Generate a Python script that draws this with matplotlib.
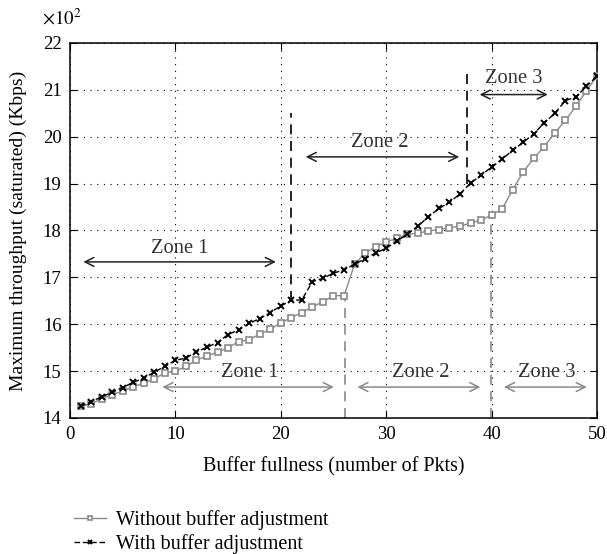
import matplotlib
matplotlib.use("Agg")
import matplotlib.pyplot as plt

# buffer fullness (packets)
buffer_pkts = list(range(1, 51))

# maximum throughput in units of 10^2 Kbps
without_adj = [
    14.25, 14.30, 14.41, 14.50, 14.57, 14.67, 14.74, 14.84, 14.96, 15.00,
    15.10, 15.23, 15.33, 15.40, 15.50, 15.63, 15.67, 15.79, 15.89, 16.03,
    16.14, 16.25, 16.37, 16.48, 16.61, 16.61, 17.28, 17.52, 17.65, 17.76,
    17.83, 17.92, 17.94, 17.99, 18.02, 18.06, 18.09, 18.16, 18.22, 18.33,
    18.46, 18.87, 19.25, 19.54, 19.79, 20.08, 20.35, 20.65, 20.98, 21.29,
]
with_adj = [
    14.25, 14.35, 14.45, 14.55, 14.65, 14.76, 14.85, 14.98, 15.10, 15.23,
    15.28, 15.41, 15.51, 15.61, 15.78, 15.88, 16.02, 16.12, 16.25, 16.39,
    16.51, 16.52, 16.91, 16.98, 17.09, 17.16, 17.28, 17.40, 17.52, 17.62,
    17.77, 17.92, 18.09, 18.29, 18.47, 18.60, 18.78, 19.01, 19.18, 19.35,
    19.52, 19.71, 19.88, 20.06, 20.30, 20.50, 20.77, 20.85, 21.08, 21.29,
]

# zone boundaries: (x, y_bottom, y_top)
black_bounds = [(21.0, 16.5, 20.5), (37.7, 19.0, 21.35)]
gray_bounds = [(26.1, 14.0, 16.6), (39.9, 14.0, 18.2)]

# zone arrows: (label, x_start, x_end, y_arrow, x_text, y_text)
black_zones = [
    ("Zone 1", 1.0, 19.8, 17.33, 10.4, 17.62),
    ("Zone 2", 22.1, 37.2, 19.57, 29.4, 19.87),
    ("Zone 3", 38.6, 45.6, 20.90, 42.1, 21.25),
]
gray_zones = [
    ("Zone 1", 8.5, 25.3, 14.66, 17.1, 14.98),
    ("Zone 2", 27.0, 39.2, 14.66, 33.3, 14.98),
    ("Zone 3", 40.9, 49.3, 14.66, 45.2, 14.98),
]

GRAY = "#8a8a8a"
plt.rcParams["font.family"] = ["Liberation Serif", "DejaVu Serif"]
plt.rcParams["mathtext.fontset"] = "stix"
plt.rcParams["font.size"] = 13

fig = plt.figure(figsize=(6.07, 5.54), dpi=100)
ax = fig.add_axes([0.1153, 0.2455, 0.8682, 0.6769])

line_wo, = ax.plot(buffer_pkts, without_adj, color=GRAY, lw=1.0, marker="s", ms=5,
                   mfc="white", mec=GRAY, mew=1.2, label="Without buffer adjustment", zorder=3)
line_w, = ax.plot(buffer_pkts, with_adj, color="black", lw=1.0, ls=(0, (4, 2)), marker="x", ms=5,
                  mew=1.4, label="With buffer adjustment", zorder=4)

for x, y0, y1 in black_bounds:
    ax.plot([x, x], [y0, y1], color="black", lw=1.2, ls=(0, (6, 4)), zorder=2)
for x, y0, y1 in gray_bounds:
    ax.plot([x, x], [y0, y1], color=GRAY, lw=1.2, ls=(0, (6, 4)), zorder=2)

for label, xs, xe, ya, xt, yt in black_zones:
    ax.annotate("", xy=(xe, ya), xytext=(xs, ya),
                arrowprops=dict(arrowstyle="<->", color="#222222", lw=1.1, mutation_scale=16))
    ax.text(xt, yt, label, ha="center", va="center", color="#333333", fontsize=14.8)
for label, xs, xe, ya, xt, yt in gray_zones:
    ax.annotate("", xy=(xe, ya), xytext=(xs, ya),
                arrowprops=dict(arrowstyle="<->", color=GRAY, lw=1.1, mutation_scale=16))
    ax.text(xt, yt, label, ha="center", va="center", color="#333333", fontsize=14.8)

ax.set_xlim(0, 50)
ax.set_ylim(14, 22)
ax.set_xticks(range(0, 51, 10))
ax.set_yticks(range(14, 23))
ax.grid(True, color="black", ls=(0, (1, 5)), lw=0.8)
ax.tick_params(direction="in", top=True, right=True, length=5, pad=6, labelsize=13.5)
for spine in ax.spines.values():
    spine.set_linewidth(1.1)

ax.set_xlabel("Buffer fullness (number of Pkts)", fontsize=14.5, labelpad=10)
ax.set_ylabel("Maximum throughput (saturated) (Kbps)", fontsize=14)
ax.yaxis.set_label_coords(-0.082, 0.5)
fig.text(0.069, 0.966, r"$\times10^{2}$", fontsize=13.5, ha="left", va="center")

fig.legend(handles=[line_wo, line_w], loc="upper left", bbox_to_anchor=(0.108, 0.093),
           frameon=False, fontsize=14.5, handlelength=1.6, handletextpad=0.5, labelspacing=0.2,
           borderaxespad=0, markerscale=0.6)

fig.savefig("out.png", dpi=100)
